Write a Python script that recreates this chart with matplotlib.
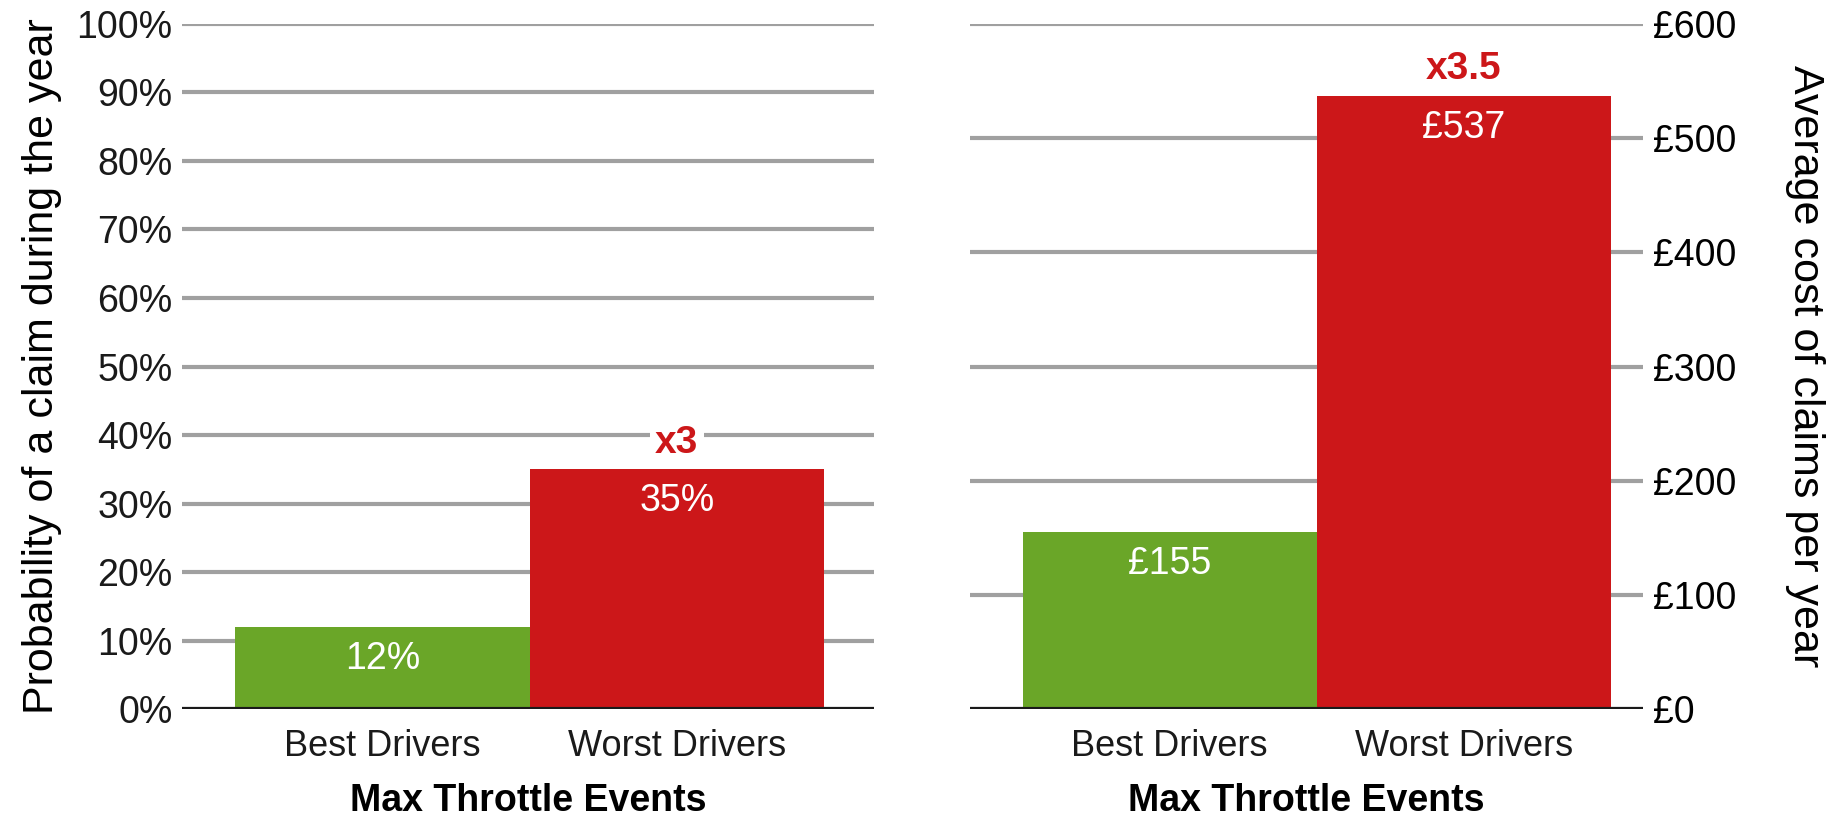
import matplotlib
matplotlib.use("Agg")
import matplotlib.pyplot as plt
from matplotlib import font_manager
from matplotlib.ticker import FuncFormatter

# data
categories = ["Best Drivers", "Worst Drivers"]
claim_prob = [12, 35]          # percent
claim_cost = [155, 537]        # pounds
prob_ratio = "x3"
cost_ratio = "x3.5"
xlabel = "Max Throttle Events"
left_ylabel = "Probability of a claim during the year"
right_ylabel = "Average cost of claims per year"

GREEN = "#6aa628"
RED = "#cc1719"
GRID = "#a0a0a0"

names = {f.name for f in font_manager.fontManager.ttflist}
NARROW = "Liberation Sans Narrow" if "Liberation Sans Narrow" in names else "Liberation Sans"
REGULAR = "Liberation Sans"

plt.rcParams["font.family"] = [REGULAR, "DejaVu Sans"]


def style_axes(ax, side):
    for s in ax.spines.values():
        s.set_visible(False)
    ax.set_axisbelow(True)
    ax.yaxis.grid(True, color=GRID, linewidth=3)
    ax.axhline(0, color="#1a1a1a", linewidth=3, zorder=3)
    ax.tick_params(axis="both", length=0)
    ax.tick_params(axis="y", pad=7, labelsize=27)
    ax.tick_params(axis="x", pad=14, labelsize=26)
    for t in ax.get_xticklabels() + ax.get_yticklabels():
        t.set_fontfamily([NARROW, "DejaVu Sans"])
        t.set_color("#1a1a1a")
    if side == "right":
        ax.yaxis.tick_right()
        ax.yaxis.set_label_position("right")


def draw_panel(ax, values, ymax, step, fmt, ratio, ylabel, side, xlim):
    x = list(range(len(categories)))
    ax.bar(x, values, width=1.0, color=[GREEN, RED], zorder=2)
    ax.set_xlim(*xlim)
    ax.set_ylim(0, ymax)
    ax.set_yticks(list(range(0, ymax + 1, step)))
    ax.yaxis.set_major_formatter(FuncFormatter(fmt))
    ax.set_xticks(x)
    ax.set_xticklabels(categories)
    style_axes(ax, side)
    for xi, v in zip(x, values):
        ax.annotate(fmt(v, None), (xi, v), xytext=(0, -10), textcoords="offset points",
                    ha="center", va="top", color="white", fontsize=27,
                    family=[NARROW, "DejaVu Sans"], zorder=4)
    ax.annotate(ratio, (x[-1], values[-1]), xytext=(0, 6), textcoords="offset points",
                ha="center", va="bottom", color=RED, fontsize=28, fontweight="bold",
                family=[NARROW, "DejaVu Sans"], zorder=4,
                bbox=dict(facecolor="white", edgecolor="none", pad=4))
    ax.set_xlabel(xlabel, fontsize=27, fontweight="bold", labelpad=14,
                  family=[NARROW, "DejaVu Sans"])
    if side == "right":
        ax.set_ylabel(ylabel, fontsize=31, rotation=270, labelpad=64)
    else:
        ax.set_ylabel(ylabel, fontsize=31, labelpad=10)


def main():
    fig = plt.figure(figsize=(18.4, 8.19), dpi=100)
    ax1 = fig.add_axes([0.099, 0.134, 0.376, 0.837])
    ax2 = fig.add_axes([0.527, 0.134, 0.366, 0.837])

    draw_panel(ax1, claim_prob, 100, 10, lambda v, p: f"{int(v)}%",
               prob_ratio, left_ylabel, "left", (-0.68, 1.67))
    draw_panel(ax2, claim_cost, 600, 100, lambda v, p: f"£{int(v)}",
               cost_ratio, right_ylabel, "right", (-0.68, 1.61))

    fig.savefig("out.png", dpi=100, facecolor="white")
    plt.close(fig)


if __name__ == "__main__":
    main()
